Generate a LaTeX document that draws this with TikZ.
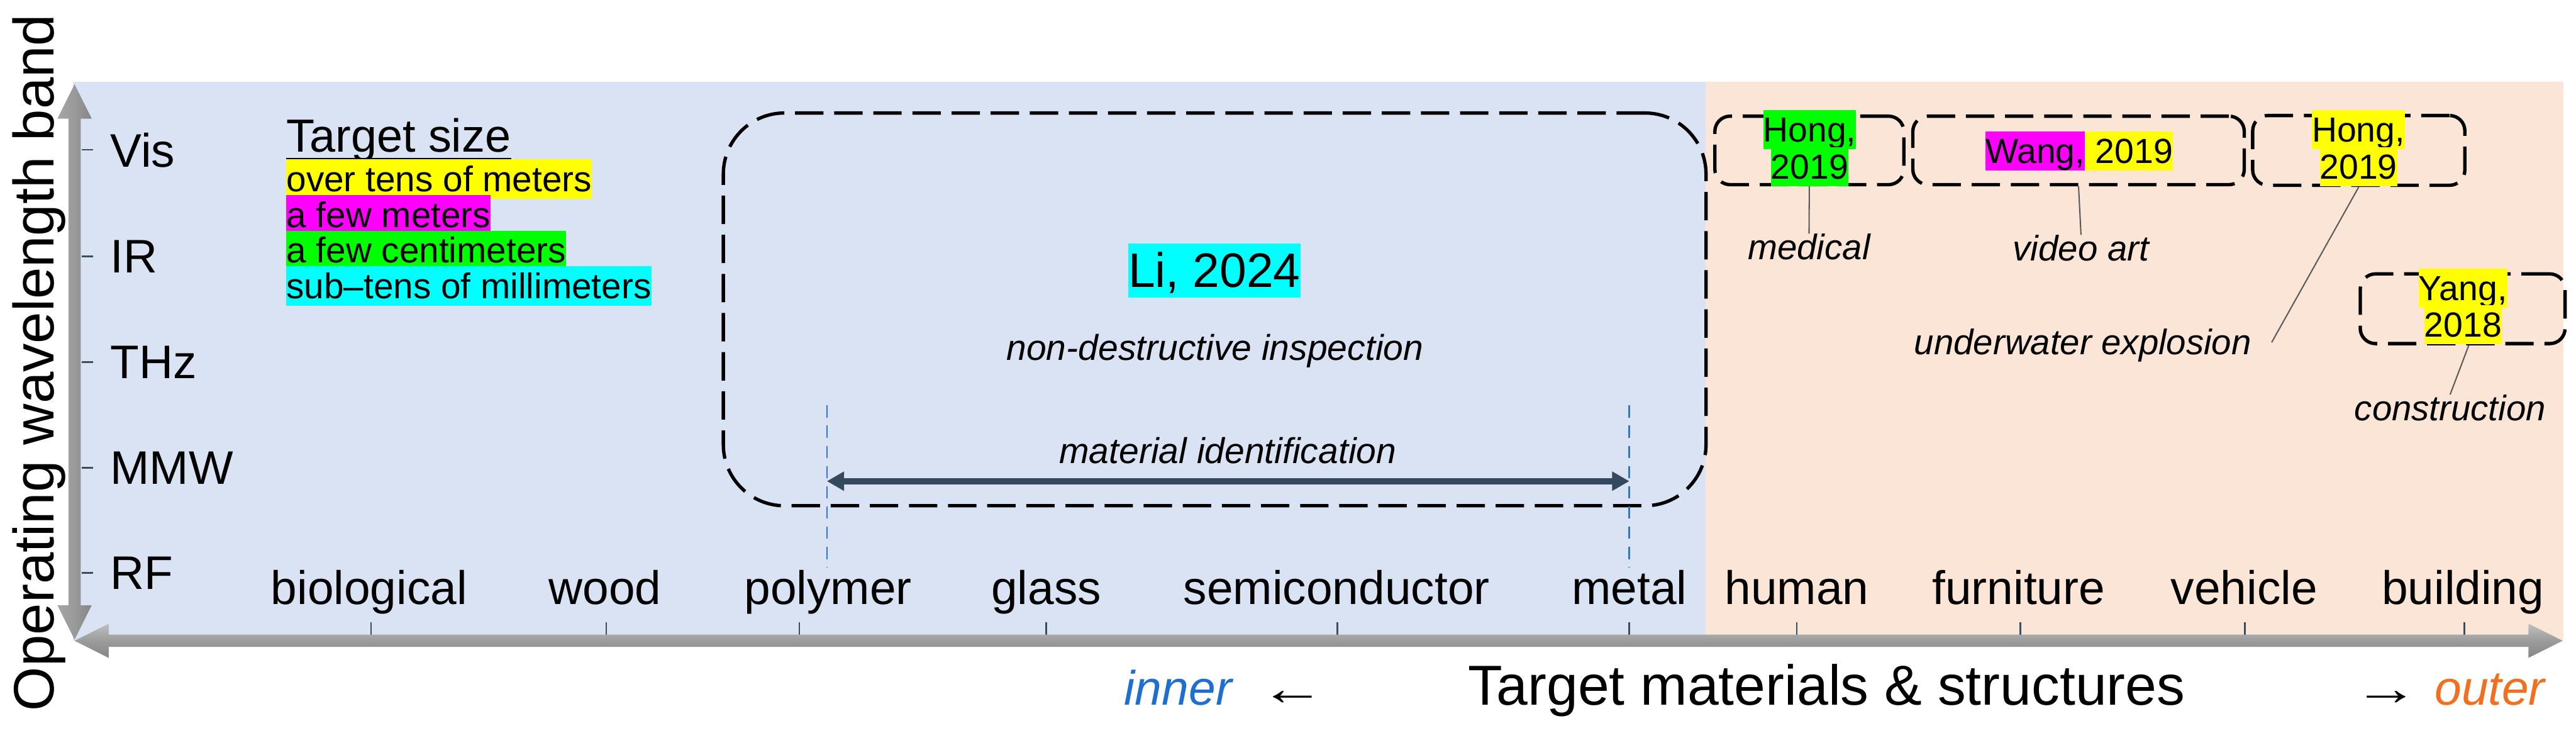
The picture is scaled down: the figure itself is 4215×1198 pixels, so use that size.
\documentclass[tikz,border=0pt]{standalone}
\usepackage{fontspec}
\usepackage{graphicx}
\setmainfont{Liberation Sans}
\usetikzlibrary{arrows.meta}
\definecolor{bluebg}{RGB}{218,227,243}
\definecolor{orangebg}{RGB}{251,229,214}
\definecolor{hlyellow}{RGB}{255,255,0}
\definecolor{hlmagenta}{RGB}{255,0,255}
\definecolor{hlgreen}{RGB}{0,255,0}
\definecolor{hlcyan}{RGB}{0,255,255}
\definecolor{innerblue}{RGB}{31,111,208}
\definecolor{outerorange}{RGB}{240,112,32}
\definecolor{slate}{RGB}{52,72,94}
\definecolor{tickcol}{RGB}{60,76,96}
\definecolor{leadcol}{RGB}{90,90,90}
\definecolor{vdashcol}{RGB}{46,117,214}
\newcommand{\myfs}[1]{\fontsize{#1}{#1}\selectfont}
\tikzset{
  lbl/.style={inner sep=0pt, anchor=base, font=\myfs{21.9}},
  ylbl/.style={inner sep=0pt, anchor=base west, font=\myfs{21.9}},
  hl/.style={inner sep=0pt, anchor=base, fill=#1, font=\myfs{16.2}, text height=14.7pt, text depth=3.4pt},
  lst/.style={inner sep=0pt, anchor=base west, fill=#1, font=\myfs{16.6}, text height=15.0pt, text depth=3.5pt},
  note/.style={inner sep=0pt, anchor=base, font=\myfs{16.5}\itshape},
  dbox/.style={draw=black, line width=1.56pt, dash pattern=on 13.2pt off 5pt, inner sep=0pt, rounded corners=0.25cm},
  leader/.style={draw=leadcol, line width=0.6pt},
  tickline/.style={draw=tickcol, line width=0.8pt},
  vdash/.style={draw=vdashcol, line width=0.75pt, dash pattern=on 5.7pt off 3.7pt},
  matarrow/.style={draw=slate, line width=2.8pt, {Triangle[length=8pt,width=8.5pt]}-{Triangle[length=8pt,width=8.5pt]}},
}
\begin{document}
\begin{tikzpicture}[x=0.01cm, y=-0.01cm]
\useasboundingbox (0,0) rectangle (4215,1198);
% backgrounds
\fill[bluebg] (119,134) rectangle (2791,1048);
\fill[orangebg] (2791,134) rectangle (4194,1048);

% big dashed box
\node[dbox, rounded corners=1cm, minimum width=16.07cm, minimum height=6.42cm] (libox) at (1987.5,506) {};
% small dashed boxes
\node[dbox, minimum width=3.09cm, minimum height=1.12cm] (hong1box) at (2960.5,246) {};
\node[dbox, minimum width=5.42cm, minimum height=1.12cm] (wangbox) at (3401,246) {};
\node[dbox, minimum width=3.47cm, minimum height=1.14cm] (hong2box) at (3859.5,246) {};
\node[dbox, minimum width=3.35cm, minimum height=1.14cm] (yangbox) at (4029.5,505) {};

% Li box content
\node[inner sep=0pt, anchor=base, fill=hlcyan, font=\myfs{22.5}, text height=20.4pt, text depth=4.8pt] (li) at (1987,470) {Li, 2024};
\node[inner sep=0pt, anchor=base, font=\myfs{16.7}\itshape] (ndi) at (1988,589) {non-destructive inspection};
\node[inner sep=0pt, anchor=base, font=\myfs{16.7}\itshape] (matid) at (2009,758) {material identification};
\coordinate (bl1top) at (1353,663);
\coordinate (bl1bot) at (1353,928);
\coordinate (bl2top) at (2666,663);
\coordinate (bl2bot) at (2666,928);
\draw[vdash] (bl1top) -- (bl1bot);
\draw[vdash] (bl2top) -- (bl2bot);
\coordinate (mL) at (1353,787);
\coordinate (mR) at (2666,787);
\draw[matarrow] (mL) -- (mR);

% highlighted references
\node[hl=hlgreen] (hong1a) at (2961,232) {Hong,};
\node[hl=hlgreen] (hong1b) at (2961,293) {2019};
\node[hl=hlmagenta, anchor=base east] (wanga) at (3412,267) {Wang,};
\node[hl=hlyellow, anchor=base west] (wangb) at (3412,267) {\ 2019};
\node[hl=hlyellow] (hong2a) at (3859,232) {Hong,};
\node[hl=hlyellow] (hong2b) at (3859,293) {2019};
\node[hl=hlyellow] (yanga) at (4030,491) {Yang,};
\node[hl=hlyellow] (yangb) at (4030,551) {2018};

% application labels
\node[note] (medical) at (2960,425) {medical};
\node[note] (videoart) at (3405,427) {video art};
\node[note] (underwater) at (3408,580) {underwater explosion};
\node[note] (construction) at (4009,688) {construction};
\coordinate (uwend) at (3717,560);
\draw[leader] (hong1box.south) -- (medical.north);
\draw[leader] (wangbox.south) -- (videoart.north);
\draw[leader] (hong2box.south) -- (uwend);
\draw[leader] ([xshift=0.1cm]yangbox.south) -- (construction.north);

% target size legend
\node[inner sep=0pt, anchor=base west, font=\myfs{21.6}] (tsize) at (468,249) {Target size};
\draw[line width=0.9pt] ([yshift=-3.1pt]tsize.base west) -- ([yshift=-3.1pt]tsize.base east);
\node[lst=hlyellow] (ts1) at (468,313) {over tens of meters};
\node[lst=hlmagenta] (ts2) at (468,372) {a few meters};
\node[lst=hlgreen] (ts3) at (468,430) {a few centimeters};
\node[lst=hlcyan] (ts4) at (468,488) {sub–tens of millimeters};

% y-axis labels and ticks
\foreach \yy in {245,419,592,765,937} \draw[tickline] (134,\yy) -- (152,\yy);
\node[ylbl] (vis) at (180,273) {Vis};
\node[ylbl] (ir) at (180,446) {IR};
\node[ylbl] (thz) at (180,619) {THz};
\node[ylbl] (mmw) at (180,792) {MMW};
\node[ylbl] (rf) at (180,964) {RF};

% x-axis labels and ticks
\foreach \xx in {607,992,1308,1712,2188,2666,2940,3306,3673,4032} \draw[tickline] (\xx,1018) -- (\xx,1039);
\node[lbl] (biological) at (604,988) {biological};
\node[lbl] (wood) at (990,988) {wood};
\node[lbl] (polymer) at (1355,988) {polymer};
\node[lbl] (glass) at (1712,988) {glass};
\node[lbl] (semiconductor) at (2187,988) {semiconductor};
\node[lbl] (metal) at (2666,988) {metal};
\node[lbl] (human) at (2940,988) {human};
\node[lbl] (furniture) at (3303,988) {furniture};
\node[lbl] (vehicle) at (3672,988) {vehicle};
\node[lbl] (building) at (4030,988) {building};

% axes
\shade[left color=gray!70, right color=gray!95, middle color=gray!80]
  (122,138) -- (150,194) -- (132,194) -- (132,990) -- (150,990) -- (122,1046)
  -- (94,990) -- (112,990) -- (112,194) -- (94,194) -- cycle;
\shade[top color=gray!50, bottom color=gray!95, middle color=gray!78]
  (122,1048) -- (178,1020) -- (178,1038) -- (4137,1038) -- (4137,1020) -- (4193,1048)
  -- (4137,1076) -- (4137,1058) -- (178,1058) -- (178,1076) -- cycle;

% axis titles
\node[rotate=90, anchor=base, inner sep=0pt, font=\myfs{26.5}] (ytitle) at (88,593) {Operating wavelength band};
\node[inner sep=0pt, anchor=base west, font=\myfs{26.2}] (xtitle) at (2402,1153) {Target materials \& structures};
\node[inner sep=0pt, anchor=base west, font=\myfs{22.5}\itshape, text=innerblue] (inner) at (1839,1153) {inner};
\node[inner sep=0pt, anchor=base west, font=\myfs{22.5}] (larr) at (2061,1153) {\scalebox{1.35}[1]{←}};
\node[inner sep=0pt, anchor=base west, font=\myfs{22.5}] (rarr) at (3850,1153) {\scalebox{1.35}[1]{→}};
\node[inner sep=0pt, anchor=base west, font=\myfs{22.5}\itshape, text=outerorange] (outer) at (3983,1153) {outer};
\end{tikzpicture}
\end{document}
